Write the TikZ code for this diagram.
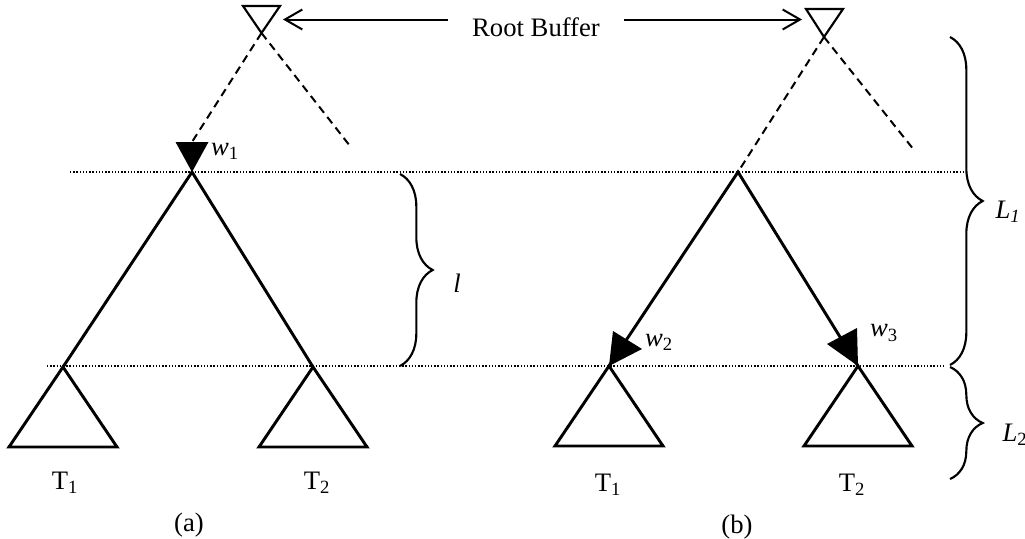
\documentclass[tikz,border=0pt]{standalone}
\usepackage{fontspec}
\setmainfont{Liberation Serif}
\usetikzlibrary{arrows.meta,decorations.pathreplacing}

\begin{document}
\begin{tikzpicture}[x=0.75pt,y=-0.75pt,line join=miter,
  font=\fontsize{20}{24}\selectfont,
  tree/.style={line width=2.2pt},
  fringe/.style={line width=1.5pt,dash pattern=on 6pt off 4pt},
  level/.style={line width=1pt,dash pattern=on 1pt off 1.4pt},
  buffer/.style={line width=1.6pt},
  bracket/.style={line width=1.6pt,decorate,decoration={brace,amplitude=24.5pt}},
  pointer/.style={line width=1.5pt,-{Straight Barb[length=13pt,width=15pt]}}]
  \useasboundingbox (0,0) rectangle (1025,539);
  % The two level lines.
  \draw[level] (70,172) -- (965,172);
  \draw[level] (47,366) -- (945,366);
  % Root buffers and their label.
  \coordinate (rootA) at (261.5,33);
  \coordinate (rootB) at (824,37);
  \draw[buffer] (243,6) -- (280,6) -- (rootA) -- cycle;
  \draw[buffer] (806,9) -- (843,9) -- (rootB) -- cycle;
  \coordinate (tipA) at (283,19.5);
  \coordinate (tipB) at (802,19.5);
  \node[inner xsep=18pt] (rb) at (536,27) {Root Buffer};
  \draw[pointer] (tipA -| rb.west) -- (tipA);
  \draw[pointer] (tipB -| rb.east) -- (tipB);
  % Tree (a).
  \coordinate (topA) at (192,172);
  \coordinate (headA) at (192,142);
  \coordinate (endA) at (350,146);
  \coordinate (subA1) at (63,367);
  \coordinate (subA2) at (313,367);
  \draw[fringe] (rootA) -- (headA);
  \draw[fringe] (rootA) -- (endA);
  \draw[tree] (subA1) -- (topA) -- (subA2);
  \fill (topA) -- ++(-16.5,-30) -- ++(33,0) -- cycle;
  \node (wA) at (225,151) {\textit{w}\textsubscript{1}};
  % Tree (b).
  \coordinate (topB) at (738,172);
  \coordinate (endB) at (914,150);
  \coordinate (subB1) at (609,366);
  \coordinate (subB2) at (858,366);
  \draw[fringe] (rootB) -- (topB);
  \draw[fringe] (rootB) -- (endB);
  \draw[tree] (subB1) -- (topB) -- (subB2);
  \fill (subB1) -- ++(4,-35) -- ++(29,18) -- cycle;
  \fill (subB2) -- ++(-31,-22) -- ++(30,-16) -- cycle;
  \node (wB) at (659,342) {\textit{w}\textsubscript{2}};
  \node (wC) at (884,333) {\textit{w}\textsubscript{3}};
  % Subtrees.
  \foreach \s in {subA1,subA2,subB1,subB2}
    \draw[tree] (\s) -- ++(-54,80) -- ++(108,0) -- cycle;
  \node (tA1) at (65,483) {T\textsubscript{1}};
  \node (tA2) at (317,483) {T\textsubscript{2}};
  \node (tB1) at (608,485) {T\textsubscript{1}};
  \node (tB2) at (852,485) {T\textsubscript{2}};
  \node (capA) at (189,525) {(a)};
  \node (capB) at (737,527) {(b)};
  % Braces.
  \draw[bracket] (400,174) -- (400,366);
  \node (ll) at (457,283) {\textit{l}};
  \draw[bracket] (950,37) -- (950,365);
  \node (lOne) at (1008,212) {\textit{L}\textsubscript{\textit{1}}};
  \draw[bracket] (950,367) -- (950,479);
  \node (lTwo) at (1015,435) {\textit{L}\textsubscript{2}};
\end{tikzpicture}
\end{document}
